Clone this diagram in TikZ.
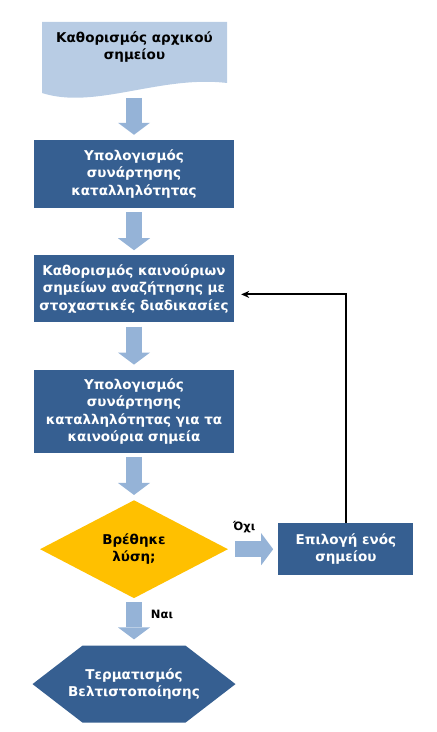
\documentclass[tikz,border=0pt]{standalone}
\usepackage{fontspec}
\setmainfont{DejaVu Sans}
\usetikzlibrary{shapes.geometric, arrows.meta, positioning, backgrounds}

\definecolor{boxblue}{HTML}{365F91}
\definecolor{docblue}{HTML}{B8CCE4}
\definecolor{arrowblue}{HTML}{95B3D7}
\definecolor{gold}{HTML}{FFC000}

\begin{document}
\begin{tikzpicture}[x=1pt, y=1pt,
  % Node styles
  stepnode/.style={
    rectangle, fill=boxblue, text=white,
    minimum width=200pt, inner sep=1pt, align=center,
    font=\bfseries\fontsize{13.5}{17.5}\selectfont
  },
  doctext/.style={
    align=center, inner sep=1pt,
    font=\bfseries\fontsize{13.5}{17.5}\selectfont
  },
  decnode/.style={
    diamond, aspect=1.9, fill=gold, inner sep=0pt,
    minimum width=188pt, minimum height=98pt, align=center,
    font=\bfseries\fontsize{13.5}{17.5}\selectfont
  },
  endnode/.style={
    rectangle, text=white, inner sep=1pt,
    minimum height=77pt, align=center,
    font=\bfseries\fontsize{13.5}{17.5}\selectfont
  },
  lbl/.style={font=\bfseries\fontsize{11.5}{13}\selectfont, inner sep=0pt},
  % Arrow styles
  blockarr/.style={draw=arrowblue, line width=16pt,
    -{Triangle[width=32pt, length=12pt, line width=0pt]}},
  backarr/.style={-{Stealth[length=8pt, width=7pt]}, line width=2pt},
  node distance=47pt and 50pt
]
\useasboundingbox (0,0) rectangle (437,732);

%% ── Start (document shape) ───────────────────────────────────
\node[doctext]                         (start)   at (134.5,685)
  {Καθορισμός αρχικού\\σημείου};
\coordinate                            (startfoot) at (134,641);
\begin{scope}[on background layer]
  \fill[docblue] (42,710) -- (227,710) -- (227,649)
    .. controls (160,657) and (95,622) .. (42,639) -- cycle;
\end{scope}

%% ── Main column ──────────────────────────────────────────────
\node[stepnode, minimum height=68pt]   (calc)    at (134,558)
  {Υπολογισμός\\συνάρτησης\\καταλληλότητας};
\node[stepnode, minimum height=67pt, below=of calc]    (search)
  {Καθορισμός καινούριων\\σημείων αναζήτησης με\\στοχαστικές διαδικασίες};
\node[stepnode, minimum height=83pt, below=of search]  (evalnew)
  {Υπολογισμός\\συνάρτησης\\καταλληλότητας για τα\\καινούρια σημεία};
\node[decnode, below=of evalnew]       (decide)  {Βρέθηκε\\λύση;};
\node[endnode, below=of decide]        (finish)  {Τερματισμός\\Βελτιστοποίησης};
\begin{scope}[on background layer]
  \fill[boxblue] ([shift={(-51.5,38.5)}]finish.center) -- ([shift={(51.5,38.5)}]finish.center)
    -- ([shift={(101.5,0)}]finish.center) -- ([shift={(51.5,-38.5)}]finish.center)
    -- ([shift={(-51.5,-38.5)}]finish.center) -- ([shift={(-101.5,0)}]finish.center) -- cycle;
\end{scope}

%% ── Side box ─────────────────────────────────────────────────
\node[stepnode, minimum width=135pt, minimum height=52pt, right=of decide] (choose)
  {Επιλογή ενός\\σημείου};

%% ── Block arrows down the column ─────────────────────────────
\draw[blockarr, shorten <=7pt, shorten >=5pt] (startfoot)    -- (calc.north);
\draw[blockarr, shorten <=4pt, shorten >=5pt] (calc.south)   -- (search.north);
\draw[blockarr, shorten <=4pt, shorten >=5pt] (search.south) -- (evalnew.north);
\draw[blockarr, shorten <=4pt, shorten >=5pt] (evalnew.south) -- (decide.north);
\draw[blockarr, shorten <=4pt, shorten >=6pt] (decide.south) --
  node[lbl, text=black, pos=0.34, xshift=28pt] {Ναι} (finish.north);

%% ── No branch and loop back ──────────────────────────────────
\draw[blockarr, shorten <=7pt, shorten >=5pt] (decide.east) --
  node[lbl, text=black, pos=0.32, yshift=22pt] {Όχι} (choose.west);
\draw[backarr, shorten >=7pt] (choose.north) |- ([yshift=-5.5pt]search.east);

\end{tikzpicture}
\end{document}
